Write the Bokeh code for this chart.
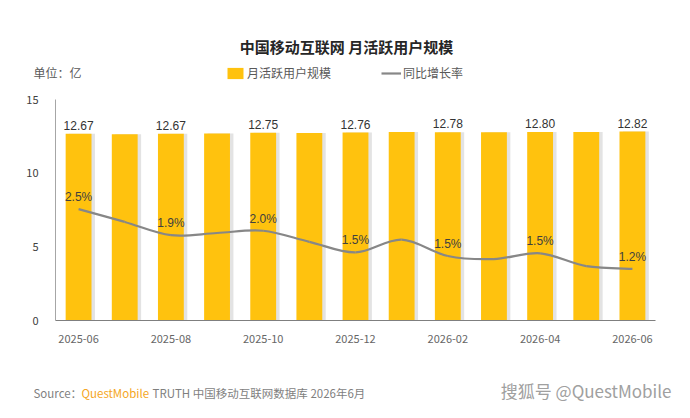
from bokeh.plotting import figure
from bokeh.models import (ColumnDataSource, Range1d, FixedTicker, Label, Legend, LegendItem,
                          LabelSet)
from bokeh.core.properties import value
from bokeh.transform import dodge
from bokeh.embed import file_html
from bokeh.resources import INLINE

# ---- data ----
months = ["2025-06", "2025-07", "2025-08", "2025-09", "2025-10", "2025-11", "2025-12",
          "2026-01", "2026-02", "2026-03", "2026-04", "2026-05", "2026-06"]
mau = [12.67, 12.64, 12.67, 12.70, 12.75, 12.73, 12.76, 12.80, 12.78, 12.77, 12.80, 12.79, 12.82]
yoy = [2.52, 2.23, 1.93, 1.98, 2.03, 1.78, 1.54, 1.83, 1.46, 1.39, 1.52, 1.23, 1.17]
y_ticks = [0, 5, 10, 15]

title_text = "中国移动互联网 月活跃用户规模"
unit_text = "单位：亿"
bar_name = "月活跃用户规模"
line_name = "同比增长率"
source_parts = ["Source：", "QuestMobile", "TRUTH 中国移动互联网数据库 2026年6月"]
watermark = "搜狐号 @QuestMobile"

CJK = "Noto Sans CJK SC"
NUM = "Liberation Sans"

n = len(months)
xs = list(range(n))

# canvas geometry (frame covers the whole canvas; axes are pinned inside it)
W, H = 674, 402
AX_L, AX_R, AX_T, AX_B = 55, 655, 99, 320     # pixel box of the value area
Y_MAX = 15
px_x = (AX_R - AX_L) / n
px_y = (AX_B - AX_T) / Y_MAX
x_lo = -0.5 - AX_L / px_x
x_hi = n - 0.5 + (W - AX_R) / px_x
y_lo = -(H - AX_B) / px_y
y_hi = Y_MAX + AX_T / px_y

p = figure(width=W, height=H, output_backend="svg", toolbar_location=None,
           x_range=Range1d(x_lo, x_hi), y_range=Range1d(y_lo, y_hi), min_border=0)
p.extra_y_ranges = {"rate": Range1d(y_lo / 3, y_hi / 3)}
p.outline_line_color = None
p.xgrid.grid_line_color = None
p.ygrid.grid_line_color = None
p.background_fill_color = "white"
p.border_fill_color = "white"

src = ColumnDataSource(dict(x=xs, mau=mau, yoy=yoy))

# bar shadow + bars
p.vbar(x=dodge("x", 0.075, range=p.x_range), top="mau", bottom=0, width=0.56, source=src,
       fill_color="#d0d0d0", fill_alpha=0.6, line_color=None)
bars = p.vbar(x="x", top="mau", bottom=0, width=0.56, source=src,
              fill_color="#FFC20E", line_color=None)

# smooth line through the growth values (Catmull-Rom -> Bezier)
x0, y0, x1, y1, cx0, cy0, cx1, cy1 = [], [], [], [], [], [], [], []
for i in range(n - 1):
    im = max(i - 1, 0)
    ip2 = min(i + 2, n - 1)
    x0.append(xs[i]); y0.append(yoy[i])
    x1.append(xs[i + 1]); y1.append(yoy[i + 1])
    cx0.append(xs[i] + (xs[i + 1] - xs[im]) / 6)
    cy0.append(yoy[i] + (yoy[i + 1] - yoy[im]) / 6)
    cx1.append(xs[i + 1] - (xs[ip2] - xs[i]) / 6)
    cy1.append(yoy[i + 1] - (yoy[ip2] - yoy[i]) / 6)
bz = p.bezier(x0=x0, y0=y0, x1=x1, y1=y1, cx0=cx0, cy0=cy0, cx1=cx1, cy1=cy1,
              line_color="#878787", line_width=2.2, y_range_name="rate")

# labels on every other month
lbl_src = ColumnDataSource(dict(x=xs[::2], mau=mau[::2], yoy=yoy[::2],
                                mau_lbl=[f"{v:.2f}" for v in mau[::2]],
                                yoy_lbl=[f"{v:.1f}%" for v in yoy[::2]]))
p.add_layout(LabelSet(x="x", y="mau", text="mau_lbl", source=lbl_src, text_align="center",
                      text_baseline="bottom", y_offset=4, text_font=value(NUM),
                      text_font_size=value("12px"), text_color="#333333"))
p.add_layout(LabelSet(x="x", y="yoy", text="yoy_lbl", source=lbl_src, text_align="center",
                      text_baseline="bottom", y_offset=5, text_font=value(NUM),
                      y_range_name="rate",
                      text_font_size=value("12px"), text_color="#404040"))

# axes pinned inside the frame
p.xaxis.fixed_location = 0
p.xaxis.bounds = (-0.5, n - 0.5)
p.xaxis.ticker = FixedTicker(ticks=xs[::2])
p.xaxis.major_label_overrides = {i: months[i] for i in xs}
p.xaxis.major_tick_line_color = None
p.xaxis.minor_tick_line_color = None
p.xaxis.axis_line_color = "#7f7f7f"
p.xaxis.axis_line_width = 1.2
p.xaxis.major_label_standoff = 8
p.xaxis.major_label_text_font = CJK
p.xaxis.major_label_text_font_size = "11px"
p.xaxis.major_label_text_color = "#666666"

p.yaxis.fixed_location = -0.5
p.yaxis.bounds = (0, Y_MAX)
p.yaxis.ticker = FixedTicker(ticks=y_ticks)
p.yaxis.major_tick_line_color = None
p.yaxis.minor_tick_line_color = None
p.yaxis.axis_line_color = "#a6a6a6"
p.yaxis.major_label_standoff = 11
p.yaxis.major_label_text_font = CJK
p.yaxis.major_label_text_font_size = "11px"
p.yaxis.major_label_text_color = "#404040"

# legend
legend = Legend(items=[LegendItem(label=bar_name, renderers=[bars]),
                       LegendItem(label=line_name, renderers=[bz])],
                orientation="horizontal", location=(225, H - 81),
                glyph_width=20, glyph_height=14, spacing=50, label_standoff=2,
                padding=0, margin=0, border_line_color=None, background_fill_alpha=0,
                label_text_font=CJK, label_text_font_size="12px", label_text_color="#595959")
p.add_layout(legend)

# title and notes
p.add_layout(Label(x=(n - 1) / 2, y=Y_MAX, x_offset=-9, y_offset=AX_T - 46, text=title_text,
                   text_align="center", text_baseline="middle", text_font=CJK,
                   text_font_style="bold", text_font_size="15px", text_color="#262626"))
p.add_layout(Label(x=-0.5, y=Y_MAX, x_offset=33 - AX_L, y_offset=AX_T - 72, text=unit_text,
                   text_baseline="middle", text_font=CJK, text_font_size="12px",
                   text_color="#595959"))
for txt, xo, col in zip(source_parts, [33, 81, 152], ["#7f7f7f", "#F5A623", "#7f7f7f"]):
    p.add_layout(Label(x=-0.5, y=0, x_offset=xo - AX_L, y_offset=AX_B - 392, text=txt,
                       text_baseline="middle", text_font=CJK, text_font_size="11.5px",
                       text_color=col))
p.add_layout(Label(x=n - 0.5, y=0, x_offset=671 - AX_R, y_offset=AX_B - 390, text=watermark,
                   text_align="right", text_baseline="middle", text_font=CJK,
                   text_font_size="17px", text_color="#a0a0a0"))

open("out.html", "w").write(file_html(p, INLINE))
